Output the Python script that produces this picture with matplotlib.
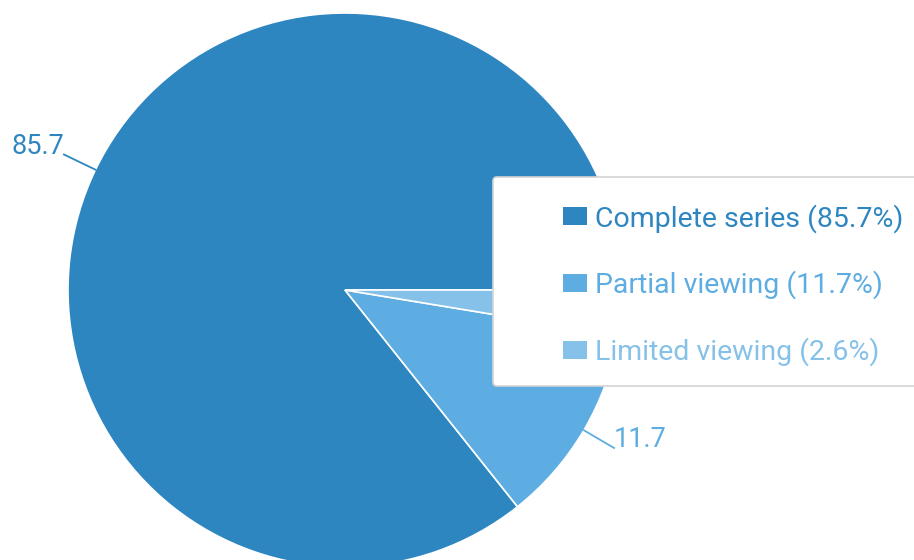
import matplotlib
matplotlib.use("Agg")
import matplotlib.pyplot as plt
import numpy as np
from matplotlib.patches import FancyBboxPatch, Patch

categories = ["Complete series", "Partial viewing", "Limited viewing"]
values = [85.7, 11.7, 2.6]
colors = ["#2E86C1", "#5DADE2", "#85C1E9"]

plt.rcParams['font.family'] = ['Roboto', 'DejaVu Sans']

W, H = 914, 560
fig = plt.figure(figsize=(W / 100, H / 100), dpi=100)
ax = fig.add_axes([0, 0, 1, 1])

cx, cy, R = 345, H - 290, 277
wedges, _ = ax.pie(values, colors=colors, startangle=0, counterclock=True,
                   center=(cx, cy), radius=R, frame=True,
                   wedgeprops=dict(edgecolor='white', linewidth=1.2))
ax.set_xlim(0, W)
ax.set_ylim(0, H)
ax.axis('off')

# value labels with leader lines (the small slice's label sits under the legend)
for w, v, c in zip(wedges, values, colors):
    if v < 5:
        continue
    mid = np.deg2rad((w.theta1 + w.theta2) / 2)
    x0, y0 = cx + R * np.cos(mid), cy + R * np.sin(mid)
    x1, y1 = cx + 312 * np.cos(mid), cy + 312 * np.sin(mid)
    ax.plot([x0, x1], [y0, y1], color=c, lw=1.3, zorder=3)
    ha = 'right' if np.cos(mid) < 0 else 'left'
    ax.text(x1, y1 + 8, f"{v:.1f}", color=c, fontsize=19.5, ha=ha, va='center', zorder=3)

# legend frame
frame = FancyBboxPatch((493, H - 386), 460, 209, boxstyle="round,pad=0,rounding_size=4",
                       facecolor='white', edgecolor='#d4d4d4', linewidth=1.2, zorder=5)
ax.add_patch(frame)

handles = [Patch(facecolor=c, edgecolor='none') for c in colors]
labels = [f"{n} ({v}%)" for n, v in zip(categories, values)]
leg = ax.legend(handles, labels, loc='center left', bbox_to_anchor=(563, H - 285),
                bbox_transform=ax.transData, frameon=False, fontsize=20.5,
                handlelength=0.84, handleheight=0.6, handletextpad=0.28,
                labelspacing=1.33, borderpad=0, borderaxespad=0)
leg.set_zorder(6)
for t, c in zip(leg.get_texts(), colors):
    t.set_color(c)

fig.savefig("out.png", dpi=100)
